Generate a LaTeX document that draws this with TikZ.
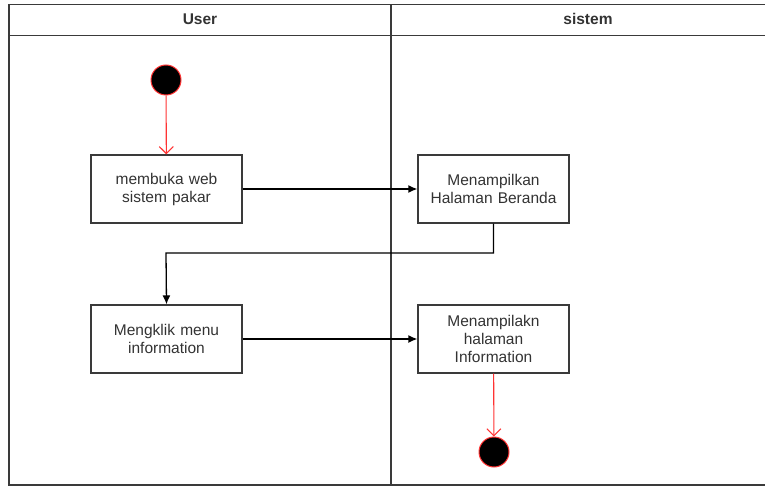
\documentclass[tikz,border=0pt]{standalone}
\usepackage{fontspec}
\setmainfont{Liberation Sans}
\usetikzlibrary{arrows.meta}
\definecolor{ink}{HTML}{333333}
\definecolor{lane}{HTML}{3A3A3A}
\definecolor{flowred}{HTML}{FF3333}
\begin{document}
\begin{tikzpicture}[x=1pt,y=-1pt,
  lanebox/.style={draw=lane,line width=1.6pt},
  actbox/.style={draw=lane,line width=1.3pt,fill=white,minimum width=151pt,minimum height=68pt,
    text width=145pt,align=center,inner sep=0pt,font=\fontsize{15.5}{18}\selectfont,text=ink},
  header/.style={font=\bfseries\fontsize{15.5}{18}\selectfont,text=ink},
  flow/.style={draw=black,line width=1.3pt,-{Latex[length=9pt,width=8pt]}},
  redflow/.style={draw=flowred,line width=1.1pt,-{Straight Barb[length=7pt,width=14pt]}},
  dot/.style={circle,fill=black,draw=flowred,line width=1pt,minimum size=30pt,inner sep=0pt}]
\useasboundingbox (0,0) rectangle (765,486);
% swimlane frame
\draw[lanebox] (767,4.5) -- (9,4.5) -- (9,485) -- (767,485);
\draw[lanebox] (9,35.5) -- (767,35.5);
\draw[lanebox] (391,4.5) -- (391,485);
\node[header] (huser) at (200,19) {User};
\node[header] (hsys) at (588,19) {sistem};
% activities
\node[dot] (start) at (166,80) {};
\node[actbox] (open) at (166.5,189) {membuka web\\sistem pakar};
\node[actbox] (home) at (493.5,189) {Menampilkan\\Halaman Beranda};
\node[actbox] (click) at (166.5,339) {Mengklik menu\\information};
\node[actbox] (info) at (493.5,339) {Menampilakn\\halaman\\Information};
\node[dot] (stop) at (494,452) {};
% transitions
\draw[redflow] (start) -- (open);
\draw[flow] (open) -- (home);
\draw[flow] (home.south) |- (166,253) -- (click.north);
\draw[flow] (click) -- (info);
\draw[redflow] (info) -- (stop);
\end{tikzpicture}
\end{document}
